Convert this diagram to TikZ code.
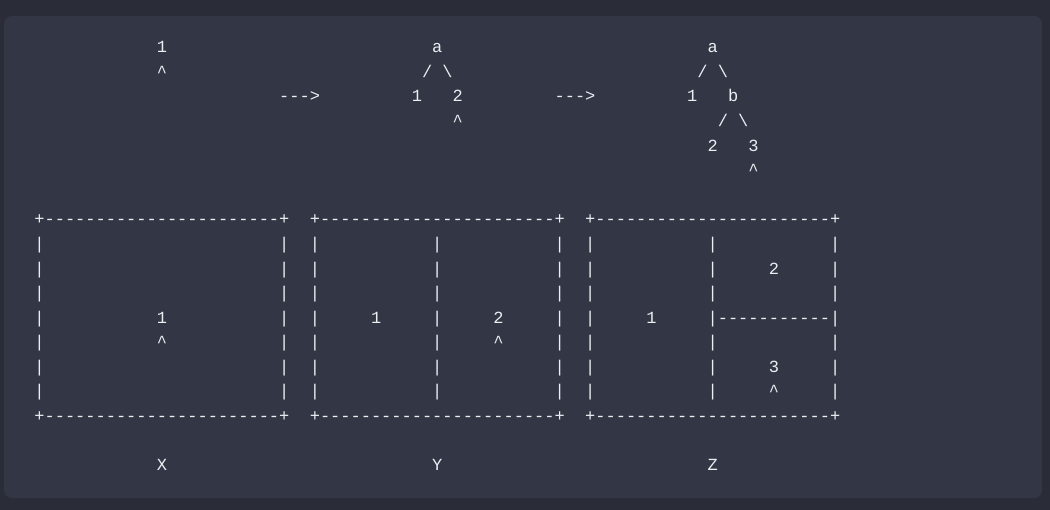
\documentclass[tikz,border=0pt]{standalone}
\usepackage{fontspec}
\setmonofont{Liberation Mono}
\definecolor{outerbg}{HTML}{2A2C37}
\definecolor{panelbg}{HTML}{333645}
\definecolor{txt}{HTML}{ECEEF2}
\newcommand{\cw}{10.2}
\newcommand{\lh}{24.59}
\newcommand{\xo}{34.4}
\begin{document}
\begin{tikzpicture}[x=1pt,y=-1pt,
  ch/.style={anchor=base west,inner sep=0pt,outer sep=0pt,text=txt,
    font=\fontsize{17pt}{20pt}\selectfont\ttfamily}]
\fill[outerbg] (0,0) rectangle (1050,510);
\useasboundingbox (0,0) rectangle (1050,510);
\fill[panelbg,rounded corners=8pt] (4,16) rectangle (1042,498);
% helper: column c, row r
\newcommand{\putc}[4]{\node[ch] (#1) at ({\xo+\cw*#2},{52.7+\lh*#3}) {#4};}
% top: trees
\putc{t1}{12}{0}{1}
\putc{t1c}{12}{1}{\textasciicircum}
\putc{arr1}{24}{2}{-{}-{}->}
\putc{ya}{39}{0}{a}
\putc{yl}{38}{1}{/}
\putc{yr}{40}{1}{\textbackslash}
\putc{y1}{37}{2}{1}
\putc{y2}{41}{2}{2}
\putc{y2c}{41}{3}{\textasciicircum}
\putc{arr2}{51}{2}{-{}-{}->}
\putc{za}{66}{0}{a}
\putc{zl}{65}{1}{/}
\putc{zr}{67}{1}{\textbackslash}
\putc{z1}{64}{2}{1}
\putc{zb}{68}{2}{b}
\putc{zbl}{67}{3}{/}
\putc{zbr}{69}{3}{\textbackslash}
\putc{z2}{66}{4}{2}
\putc{z3}{70}{4}{3}
\putc{z3c}{70}{5}{\textasciicircum}
% boxes: top and bottom borders
\foreach \c/\n in {0/X,27/Y,54/Z}{
  \node[ch] (top\n) at ({\xo+\cw*\c},{52.7+\lh*7}) {+-{}-{}-{}-{}-{}-{}-{}-{}-{}-{}-{}-{}-{}-{}-{}-{}-{}-{}-{}-{}-{}-{}-+};
  \node[ch] (bot\n) at ({\xo+\cw*\c},{52.7+\lh*15}) {+-{}-{}-{}-{}-{}-{}-{}-{}-{}-{}-{}-{}-{}-{}-{}-{}-{}-{}-{}-{}-{}-{}-+};
}
% vertical bars
\foreach \r in {8,...,14}{
  \foreach \c in {0,24,27,39,51,54}{
    \node[ch] (bar-\r-\c) at ({\xo+\cw*\c},{52.7+\lh*\r}) {|};
  }
}
\foreach \r in {8,9,10,12,13,14}{
  \foreach \c in {66,78}{
    \node[ch] (bar-\r-\c) at ({\xo+\cw*\c},{52.7+\lh*\r}) {|};
  }
}
\putc{zdiv}{66}{11}{|-{}-{}-{}-{}-{}-{}-{}-{}-{}-{}-|}
% box contents
\putc{bx1}{12}{11}{1}
\putc{bx1c}{12}{12}{\textasciicircum}
\putc{by1}{33}{11}{1}
\putc{by2}{45}{11}{2}
\putc{by2c}{45}{12}{\textasciicircum}
\putc{bz1}{60}{11}{1}
\putc{bz2}{72}{9}{2}
\putc{bz3}{72}{13}{3}
\putc{bz3c}{72}{14}{\textasciicircum}
% labels
\putc{lx}{12}{17}{X}
\putc{ly}{39}{17}{Y}
\putc{lz}{66}{17}{Z}
\end{tikzpicture}
\end{document}
